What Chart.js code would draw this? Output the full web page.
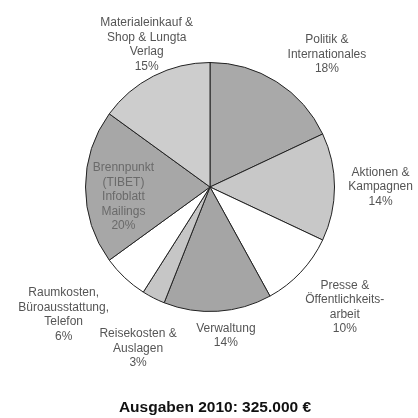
<!DOCTYPE html>
<html>
<head>
<meta charset="utf-8">
<script src="https://cdn.jsdelivr.net/npm/chart.js@4/dist/chart.umd.min.js"></script>
<style>
  html, body { margin: 0; padding: 0; background: #fff; }
  #wrap { width: 418px; height: 418px; }
</style>
</head>
<body>
<div id="wrap"><canvas id="pie" width="418" height="418"></canvas></div>
<script>
    const categories = [
      ['Politik &', 'Internationales'],
      ['Aktionen &', 'Kampagnen'],
      ['Presse &', 'Öffentlichkeits-', 'arbeit'],
      ['Verwaltung'],
      ['Reisekosten &', 'Auslagen'],
      ['Raumkosten,', 'Büroausstattung,', 'Telefon'],
      ['Brennpunkt', '(TIBET)', 'Infoblatt', 'Mailings'],
      ['Materialeinkauf &', 'Shop & Lungta', 'Verlag']
    ];
    const shares = [18, 14, 10, 14, 3, 6, 20, 15];
    const sliceColors = ['#a9a9a9', '#c8c8c8', '#ffffff', '#a5a5a5', '#c6c6c6', '#ffffff', '#a7a7a7', '#cdcdcd'];
    const titleText = 'Ausgaben 2010: 325.000 €';

    // label placement: [distance as share of radius, angle nudge in degrees]
    const labelPlace = [[1.42, 9], [1.37, 0], [1.45, -1.5], [1.2, -2.5], [1.42, -3], [1.56, 5.7], [0.70, -6.6], [1.25, 3]];

    const labelPlugin = {
      id: 'sliceLabels',
      afterDraw(chart) {
        const ctx = chart.ctx;
        const arcs = chart.getDatasetMeta(0).data;
        ctx.save();
        ctx.font = '12px "Liberation Sans", Arial, sans-serif';
        ctx.textAlign = 'center';
        ctx.textBaseline = 'middle';
        arcs.forEach((arc, i) => {
          const p = arc.getProps(['x', 'y', 'startAngle', 'endAngle', 'outerRadius'], true);
          const mid = (p.startAngle + p.endAngle) / 2 + labelPlace[i][1] * Math.PI / 180;
          const r = p.outerRadius * labelPlace[i][0];
          const cx = p.x + Math.cos(mid) * r;
          const cy = p.y + Math.sin(mid) * r;
          const lines = categories[i].concat([shares[i] + '%']);
          const lh = 14.5;
          const top = cy - (lines.length - 1) * lh / 2;
          // the label sitting inside a dark slice is drawn lighter, like the original
          ctx.fillStyle = labelPlace[i][0] < 1 ? '#6a6a6a' : '#555';
          lines.forEach((t, j) => ctx.fillText(t, cx, top + j * lh));
        });
        ctx.font = 'bold 15.5px "Liberation Sans", Arial, sans-serif';
        ctx.fillStyle = '#111';
        ctx.fillText(titleText, 215, 408);
        ctx.restore();
      }
    };

    const ctx = document.getElementById('pie').getContext('2d');
    const chart = new Chart(ctx, {
      type: 'pie',
      data: {
        labels: categories.map(c => c.join(' ')),
        datasets: [{
          data: shares,
          backgroundColor: sliceColors,
          borderColor: '#222',
          borderWidth: 1,
        }],
      },
      options: {
        responsive: false,
        animation: false,
        layout: {
          padding: { left: 85, right: 83, top: 62, bottom: 106 }
        },
        plugins: {
          legend: { display: false },
          tooltip: { enabled: false },
          title: { display: false }
        }
      },
      plugins: [labelPlugin]
    });
</script>
</body>
</html>
